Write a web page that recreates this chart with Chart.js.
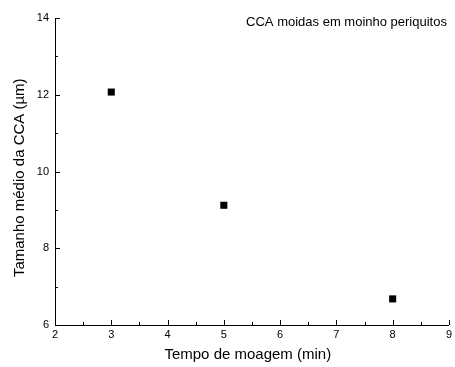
<!DOCTYPE html>
<html>
<head>
<meta charset="utf-8">
<script src="https://cdn.jsdelivr.net/npm/chart.js@4"></script>
<style>
  html, body { margin: 0; padding: 0; background: #fff; }
  #wrap { width: 455px; height: 367px; }
</style>
</head>
<body>
<div id="wrap"><canvas id="cca"></canvas></div>
<script>
// grinding time (min) vs mean CCA size (µm)
const tempos = [3, 5, 8];
const tamanhos = [12.07, 9.12, 6.68];
const xTicks = [2, 3, 4, 5, 6, 7, 8, 9];
const yTicks = [6, 8, 10, 12, 14];
const legenda = "CCA moidas em moinho periquitos";

const FONT = "'Liberation Sans', Arial, sans-serif";

// inward major + minor ticks, like the origin-style plot
const inwardTicks = {
  id: "inwardTicks",
  afterDraw(chart) {
    const { ctx, chartArea: a, scales } = chart;
    ctx.save();
    ctx.strokeStyle = "#000";
    ctx.lineWidth = 1;
    ctx.beginPath();
    for (let v = 2; v <= 9.001; v += 0.5) {
      const px = Math.round(scales.x.getPixelForValue(v)) + 0.5;
      const len = Number.isInteger(v) ? 5 : 3;
      ctx.moveTo(px, a.bottom);
      ctx.lineTo(px, a.bottom - len);
    }
    for (let v = 6; v <= 14.001; v += 1) {
      const py = Math.round(scales.y.getPixelForValue(v)) + 0.5;
      const len = v % 2 === 0 ? 5 : 3;
      ctx.moveTo(a.left, py);
      ctx.lineTo(a.left + len, py);
    }
    ctx.stroke();

    ctx.fillStyle = "#000";
    ctx.font = "13px " + FONT;
    ctx.textAlign = "right";
    ctx.textBaseline = "middle";
    ctx.fillText(legenda, a.right - 2, a.top + 4);
    ctx.restore();
  }
};

new Chart(document.getElementById("cca"), {
  type: "scatter",
  data: {
    datasets: [{
      label: legenda,
      data: tempos.map((t, i) => ({ x: t, y: tamanhos[i] })),
      pointStyle: "rect",
      pointRadius: 5,
      pointBorderWidth: 0,
      backgroundColor: "#000",
      borderColor: "#000"
    }]
  },
  options: {
    responsive: true,
    maintainAspectRatio: false,
    animation: false,
    layout: { padding: { top: 18, right: 0, bottom: 0, left: 11 } },
    plugins: {
      legend: { display: false },
      tooltip: { enabled: false }
    },
    scales: {
      x: {
        type: "linear",
        min: 2,
        max: 9,
        afterBuildTicks: s => { s.ticks = xTicks.map(v => ({ value: v })); },
        afterFit: s => { s.height = 42; },
        grid: { display: true, drawOnChartArea: false, drawTicks: false },
        border: { display: true, color: "#000", width: 1 },
        ticks: { color: "#000", font: { family: FONT, size: 11 }, padding: 3, maxRotation: 0 },
        title: {
          display: true,
          text: "Tempo de moagem (min)\u00a0\u00a0",
          color: "#000",
          font: { family: FONT, size: 15 },
          padding: { top: 0, bottom: 3 }
        }
      },
      y: {
        min: 6,
        max: 14,
        afterBuildTicks: s => { s.ticks = yTicks.map(v => ({ value: v })); },
        afterFit: s => { s.width = 44; },
        grid: { display: true, drawOnChartArea: false, drawTicks: false },
        border: { display: true, color: "#000", width: 1 },
        ticks: { color: "#000", font: { family: FONT, size: 11 }, padding: 6 },
        title: {
          display: true,
          text: "Tamanho médio da CCA (µm)\u00a0\u00a0\u00a0",
          color: "#000",
          font: { family: FONT, size: 15 },
          padding: { top: 0, bottom: 0 }
        }
      }
    }
  },
  plugins: [inwardTicks]
});
</script>
</body>
</html>
